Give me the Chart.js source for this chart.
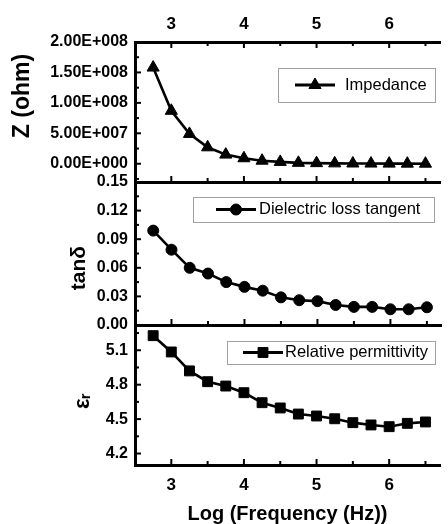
<!DOCTYPE html>
<html>
<head>
<meta charset="utf-8">
<script src="https://cdn.jsdelivr.net/npm/chart.js@4/dist/chart.umd.min.js"></script>
<style>
  body { margin: 0; background: #fff; }
  #wrap { position: relative; width: 448px; height: 524px; overflow: hidden; background: #fff; }
  #wrap canvas { position: absolute; left: 0; top: 0; }
</style>
</head>
<body>
<div id="wrap">
  <canvas id="chart-z" width="448" height="524"></canvas>
  <canvas id="chart-tan" width="448" height="524"></canvas>
  <canvas id="chart-eps" width="448" height="524"></canvas>
</div>
<script>
const logFreq = [2.75, 3, 3.25, 3.5, 3.75, 4, 4.25, 4.5, 4.75, 5, 5.25, 5.5, 5.75, 6, 6.25, 6.5];
const impedance = [1.58e8, 0.87e8, 0.49e8, 0.27e8, 0.15e8, 0.09e8, 0.05e8, 0.03e8, 0.015e8, 0.01e8, 0.006e8, 0.004e8, 0.003e8, 0.002e8, 0.0015e8, 0.001e8];
const lossTangent = [0.099, 0.079, 0.060, 0.054, 0.045, 0.040, 0.036, 0.029, 0.026, 0.025, 0.021, 0.019, 0.019, 0.0165, 0.0165, 0.0186];
const permittivity = [5.227, 5.085, 4.92, 4.826, 4.788, 4.73, 4.643, 4.597, 4.544, 4.527, 4.503, 4.469, 4.449, 4.434, 4.463, 4.475];

const xTicks = [3, 4, 5, 6];
const xMinor = [2.5, 3.5, 4.5, 5.5, 6.5];
const zTicks = [0, 5e7, 1e8, 1.5e8, 2e8];
const zMinor = [-2.5e7, 2.5e7, 7.5e7, 1.25e8, 1.75e8];
const tanTicks = [0, 0.03, 0.06, 0.09, 0.12, 0.15];
const tanMinor = [0.015, 0.045, 0.075, 0.105, 0.135];
const epsTicks = [4.2, 4.5, 4.8, 5.1];
const epsMinor = [4.35, 4.65, 4.95, 5.25];

const FAMILY = '"Liberation Sans", Arial, sans-serif';
Chart.defaults.font.family = FAMILY;
Chart.defaults.color = "#000";

const font = (size, weight, lineHeight) => ({ family: FAMILY, size, weight, lineHeight });

// "2.00E+008" style labels
const sci = (v) => {
  const [m, e] = v.toExponential(2).split("e");
  return m + "E" + (e[0] === "-" ? "-" : "+") + String(Math.abs(+e)).padStart(3, "0");
};

// tick marks drawn inward, major from the scale's ticks and minor from the lists
const inTicks = {
  id: "inTicks",
  afterDraw(chart, args, opts) {
    const { ctx, chartArea: a } = chart;
    ctx.save();
    ctx.strokeStyle = "#000";
    ctx.lineWidth = 2;
    for (const id of Object.keys(opts.minor || {})) {
      const s = chart.scales[id];
      const marks = s.ticks.map((t) => [t.value, 6]).concat(opts.minor[id].map((v) => [v, 4]));
      for (const [v, len] of marks) {
        const p = s.getPixelForValue(v);
        ctx.beginPath();
        if (s.isHorizontal()) {
          if (p < a.left || p > a.right) continue;
          const y0 = s.position === "top" ? a.top : a.bottom;
          const dir = s.position === "top" ? 1 : -1;
          ctx.moveTo(p, y0);
          ctx.lineTo(p, y0 + dir * len);
        } else {
          if (p < a.top - 1 || p > a.bottom + 1) continue;
          ctx.moveTo(a.left, p);
          ctx.lineTo(a.left + len, p);
        }
        ctx.stroke();
      }
    }
    ctx.restore();
  },
};

// framed legend with a line-and-marker sample
const boxLegend = {
  id: "boxLegend",
  afterDraw(chart, args, o) {
    if (!o.w) return;
    const { ctx } = chart;
    const ds = chart.data.datasets[0];
    const cy = o.y + o.h / 2;
    ctx.save();
    ctx.fillStyle = "#fff";
    ctx.fillRect(o.x, o.y, o.w, o.h);
    ctx.strokeStyle = "#a0a0a0";
    ctx.lineWidth = 1;
    ctx.strokeRect(o.x + 0.5, o.y + 0.5, o.w, o.h);
    ctx.strokeStyle = "#000";
    ctx.lineWidth = 2.8;
    ctx.beginPath();
    ctx.moveTo(o.lx, cy);
    ctx.lineTo(o.lx + 40, cy);
    ctx.stroke();
    ctx.fillStyle = "#000";
    ctx.lineWidth = 1;
    Chart.helpers.drawPoint(ctx, { pointStyle: ds.pointStyle, radius: ds.pointRadius, borderWidth: 1, rotation: 0 }, o.lx + 20, cy);
    ctx.font = "16.5px " + FAMILY;
    ctx.textBaseline = "middle";
    ctx.fillText(ds.label, o.tx, cy);
    ctx.restore();
  },
};

function xScale(position, height, showLabels, padding, title) {
  return {
    type: "linear",
    position,
    min: 2.5,
    max: 6.7,
    afterBuildTicks: (s) => { s.ticks = xTicks.map((v) => ({ value: v })); },
    afterFit: (s) => { s.height = height; },
    grid: { display: false, drawTicks: false },
    border: { color: "#000", width: 3 },
    ticks: { display: showLabels, autoSkip: false, maxRotation: 0, padding, font: font(17, "bold") },
    title: title
      ? { display: true, text: title, font: font(20, "bold", 1), padding: 0 }
      : { display: false },
  };
}

function yScale(min, max, ticks, fmt, title, titleSize, titlePad) {
  return {
    min,
    max,
    afterBuildTicks: (s) => { s.ticks = ticks.map((v) => ({ value: v })); },
    afterFit: (s) => { s.width = 135; },
    grid: { display: false, drawTicks: false },
    border: { color: "#000", width: 3 },
    ticks: { autoSkip: false, padding: 7, font: font(16, "bold"), callback: fmt },
    title: { display: true, text: title, font: font(titleSize, "bold", 1), padding: { top: titlePad, bottom: 0 } },
  };
}

function panel(id, label, values, pointStyle, radius, scales, pad, minor, legend) {
  return new Chart(document.getElementById(id), {
    type: "line",
    data: {
      datasets: [
        {
          label,
          data: logFreq.map((x, i) => ({ x, y: values[i] })),
          borderColor: "#000",
          backgroundColor: "#000",
          borderWidth: 2.6,
          pointStyle,
          pointRadius: radius,
          pointBorderWidth: 1,
          tension: 0,
        },
      ],
    },
    options: {
      responsive: false,
      animation: false,
      events: [],
      layout: { padding: { left: 0, right: 0, top: pad[0], bottom: pad[1] } },
      scales,
      plugins: {
        legend: { display: false },
        tooltip: { enabled: false },
        inTicks: { minor },
        boxLegend: legend,
      },
    },
    plugins: [inTicks, boxLegend],
  });
}

const nb = "\u00a0";

panel("chart-z", "Impedance", impedance, "triangle", 7, {
  x: xScale("bottom", 0, false, 0),
  xTop: xScale("top", 42, true, 7),
  y: yScale(-3e7, 2e8, zTicks, sci, nb.repeat(5) + "Z (ohm)", 23, 11.5),
}, [0, 342], { x: xMinor, xTop: xMinor, y: zMinor },
{ x: 278, y: 68, w: 157, h: 34, lx: 295, tx: 345 });

panel("chart-tan", "Dielectric loss tangent", lossTangent, "circle", 5.5, {
  x: xScale("bottom", 0, false, 0),
  y: yScale(0, 0.15, tanTicks, (v) => v.toFixed(2), "tanδ" + nb.repeat(5), 21, 68.5),
}, [182, 199], { x: xMinor, y: tanMinor },
{ x: 193, y: 197, w: 241, h: 25, lx: 216, tx: 259 });

panel("chart-eps", "Relative permittivity", permittivity, "rect", 7, {
  x: xScale("bottom", 59, true, 10, "Log (Frequency (Hz))"),
  y: yScale(4.1, 5.32, epsTicks, (v) => v.toFixed(1), "εᵣ" + nb.repeat(2), 22, 72),
}, [325, 0], { x: xMinor, y: epsMinor },
{ x: 227, y: 341, w: 208, h: 23, lx: 243, tx: 285 });
</script>
</body>
</html>
